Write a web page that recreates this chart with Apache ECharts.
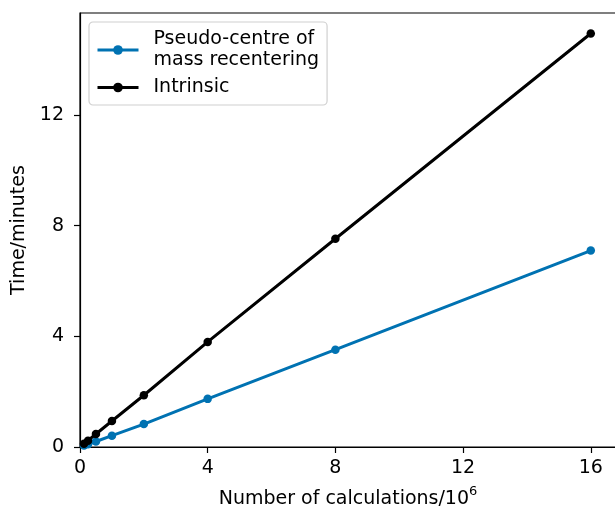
<!DOCTYPE html>
<html>
<head>
<meta charset="utf-8">
<script src="https://cdn.jsdelivr.net/npm/echarts@6/dist/echarts.min.js"></script>
<style>html,body{margin:0;padding:0;background:#fff;overflow:hidden;}#c{width:615px;height:510px;}</style>
</head>
<body>
<div id="c"></div>
<script>
const xCalcs = [0.125, 0.25, 0.5, 1, 2, 4, 8, 16];
const pseudoTimes = [0.05, 0.10, 0.20, 0.41, 0.83, 1.74, 3.52, 7.10];
const intrinsicTimes = [0.12, 0.23, 0.47, 0.94, 1.87, 3.80, 7.53, 14.95];
const xTicks = [0, 4, 8, 12, 16];
const yTicks = [0, 4, 8, 12];
const seriesNames = ['Pseudo-centre of\nmass recentering', 'Intrinsic'];

const FONT = 'DejaVu Sans';
const chart = echarts.init(document.getElementById('c'), null, {renderer: 'canvas', width: 615, height: 510});
const pair = (xs, ys) => xs.map((x, i) => [x, ys[i]]);
chart.setOption({
  animation: false,
  backgroundColor: '#fff',
  textStyle: {fontFamily: FONT},
  grid: {left: 80, top: 13, height: 434, width: 536, show: true, borderColor: '#000', borderWidth: 1.2,
         containLabel: false, outerBoundsMode: 'none'},
  legend: {
    left: 89, top: 22, orient: 'vertical',
    data: seriesNames,
    itemWidth: 41, itemHeight: 12, itemGap: 6,
    padding: [7, 8, 7, 7],
    borderColor: '#d0d0d0', borderWidth: 1.2, borderRadius: 4,
    backgroundColor: 'rgba(255,255,255,0.85)',
    lineStyle: {width: 3},
    textStyle: {fontFamily: FONT, fontSize: 19, color: '#000', lineHeight: 21, padding: [0, 0, 0, 10]}
  },
  xAxis: {
    type: 'value', min: 0, max: 16.79, interval: 4,
    name: 'Number of calculations/10{sup|6}', nameLocation: 'middle', nameGap: 38,
    nameTextStyle: {fontFamily: FONT, fontSize: 19, color: '#000',
      rich: {sup: {fontFamily: FONT, fontSize: 13, color: '#000', verticalAlign: 'top', padding: [0, 0, 16, 0]}}},
    axisLine: {show: true, onZero: false, lineStyle: {color: '#000', width: 1.2}},
    axisTick: {show: true, length: 6, lineStyle: {color: '#000', width: 1.2}},
    axisLabel: {fontFamily: FONT, fontSize: 19, color: '#000', margin: 12, showMaxLabel: false,
      formatter: v => xTicks.includes(v) ? String(v) : ''},
    splitLine: {show: false}
  },
  yAxis: {
    type: 'value', min: 0, max: 15.69, interval: 4,
    name: 'Time/minutes', nameLocation: 'middle', nameGap: 44, nameRotate: 90,
    nameTextStyle: {fontFamily: FONT, fontSize: 19, color: '#000'},
    axisLine: {show: true, onZero: false, lineStyle: {color: '#000', width: 1.2}},
    axisTick: {show: true, length: 6, lineStyle: {color: '#000', width: 1.2}},
    axisLabel: {fontFamily: FONT, fontSize: 19, color: '#000', margin: 16, showMaxLabel: false,
      formatter: v => yTicks.includes(v) ? String(v) : ''},
    splitLine: {show: false}
  },
  series: [
    {name: seriesNames[0], type: 'line', data: pair(xCalcs, pseudoTimes),
     symbol: 'circle', symbolSize: 8.5, color: '#0072B2',
     lineStyle: {width: 3, color: '#0072B2'}, itemStyle: {color: '#0072B2'}},
    {name: seriesNames[1], type: 'line', data: pair(xCalcs, intrinsicTimes),
     symbol: 'circle', symbolSize: 8.5, color: '#000',
     lineStyle: {width: 3, color: '#000'}, itemStyle: {color: '#000'}}
  ]
});
</script>
</body>
</html>
